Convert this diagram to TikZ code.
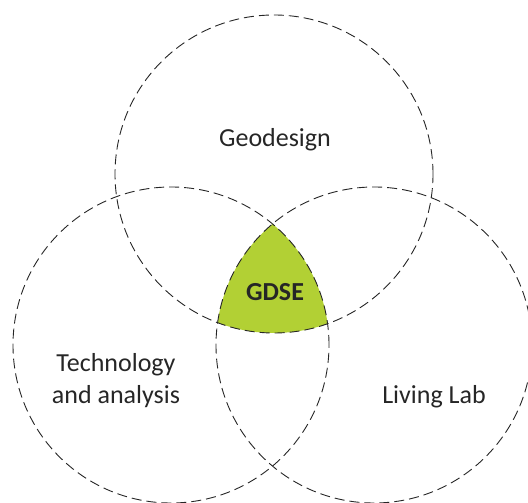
\documentclass[tikz,border=0pt]{standalone}
\usepackage{fontspec}
\setmainfont{Carlito}
\definecolor{gdsegreen}{RGB}{178,208,52}
\definecolor{txtgray}{RGB}{38,38,38}
\begin{document}
\begin{tikzpicture}[x=1pt,y=1pt,
  setcircle/.style={draw=black!85, line width=0.9pt, dash pattern=on 10pt off 5pt},
  lbl/.style={font=\fontsize{26}{32}\selectfont, text=txtgray, align=center, inner sep=0pt}]
\useasboundingbox (0,0) rectangle (528,503);
\coordinate (ct) at (274,329);
\coordinate (cl) at (171,158);
\coordinate (cr) at (374,158);
\begin{scope}
  \clip (ct) circle (159);
  \clip (cl) circle (158);
  \fill[gdsegreen] (cr) circle (158);
\end{scope}
\draw[setcircle] (ct) circle (159);
\draw[setcircle] (cl) circle (158);
\draw[setcircle] (cr) circle (158);
\node[lbl, anchor=base] (geo) at (275,356) {Geodesign};
\node[lbl, anchor=base, font=\fontsize{26}{32}\selectfont\bfseries] (gdse) at (275,202) {GDSE};
\node[lbl, anchor=base] (tech) at (116,131) {Technology};
\node[lbl, anchor=base] (ana) at (116,99) {and analysis};
\node[lbl, anchor=base] (ll) at (434,99) {Living Lab};
\end{tikzpicture}
\end{document}
